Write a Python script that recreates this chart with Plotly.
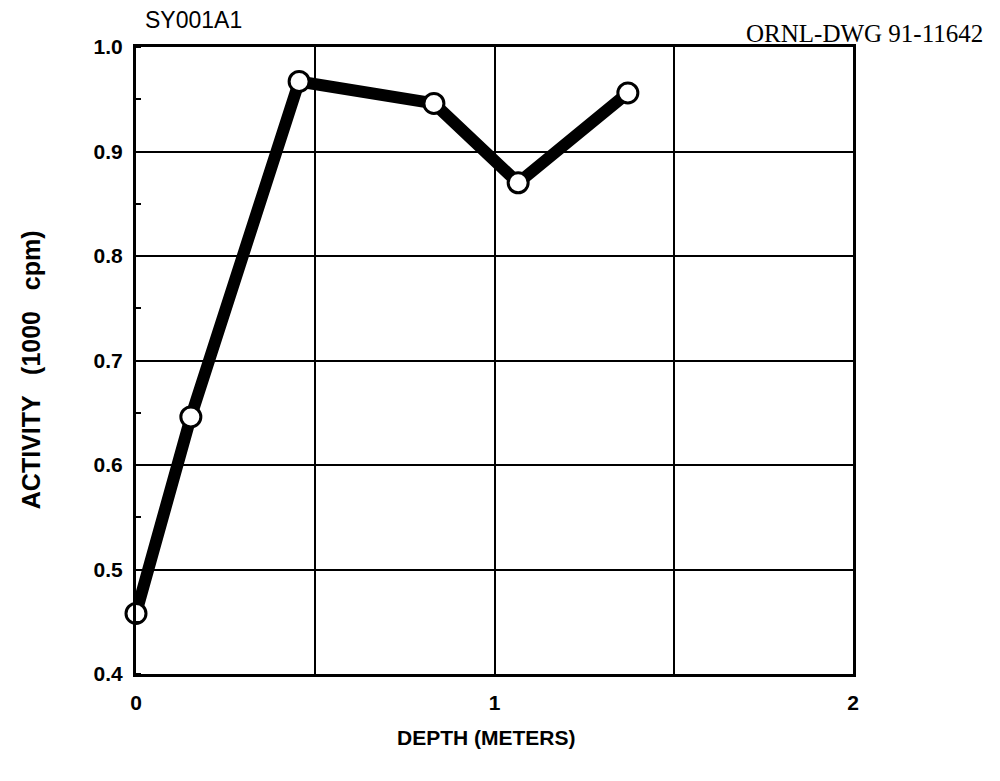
import plotly.graph_objects as go

depth = [0.0, 0.153, 0.455, 0.831, 1.066, 1.372]
activity = [0.458, 0.646, 0.967, 0.946, 0.870, 0.956]

x_tickvals = [0, 0.5, 1, 1.5, 2]
x_ticktext = ["0", "", "1", "", "2"]
y_tickvals = [0.4, 0.5, 0.6, 0.7, 0.8, 0.9, 1.0]
y_ticktext = ["0.4", "0.5", "0.6", "0.7", "0.8", "0.9", "1.0"]

SANS = "Liberation Sans, Arial, Helvetica, sans-serif"
SERIF = "Liberation Serif, Times New Roman, serif"

fig = go.Figure()
fig.add_trace(go.Scatter(
    x=depth, y=activity, mode="lines+markers",
    line=dict(color="black", width=12),
    marker=dict(size=20, color="white", line=dict(color="black", width=3)),
    showlegend=False, cliponaxis=False,
))

tick_font = dict(family=SANS, size=21, color="black")
fig.update_layout(
    width=1000, height=781,
    margin=dict(l=128, r=155, t=39, b=115),
    paper_bgcolor="white", plot_bgcolor="white",
    xaxis=dict(
        range=[0, 2], tickvals=x_tickvals,
        ticktext=[f"<b>{t}</b>" if t else "" for t in x_ticktext],
        showgrid=True, gridcolor="black", gridwidth=2,
        showline=True, linecolor="black", linewidth=3, mirror=True,
        ticks="", tickfont=tick_font, zeroline=False, ticklabelstandoff=8,
    ),
    yaxis=dict(
        range=[0.4, 1.0], tickvals=y_tickvals,
        ticktext=[f"<b>{t}</b>" for t in y_ticktext],
        showgrid=True, gridcolor="black", gridwidth=2,
        showline=True, linecolor="black", linewidth=3, mirror=True,
        ticks="", tickfont=tick_font, zeroline=False, ticklabelstandoff=6,
        minor=dict(dtick=0.05, ticks="inside", ticklen=5, tickcolor="black", tickwidth=2, showgrid=False),
    ),
)

fig.add_annotation(text="<b>DEPTH (METERS)</b>", x=0.4895, y=-0.1005, xref="paper", yref="paper",
                   xanchor="center", yanchor="middle", showarrow=False,
                   font=dict(family=SANS, size=21, color="black"))
fig.add_annotation(text="<b>ACTIVITY   (1000   cpm)</b>", x=-0.146, y=0.485, xref="paper", yref="paper",
                   xanchor="center", yanchor="middle", showarrow=False, textangle=-90,
                   font=dict(family=SANS, size=25, color="black"))
fig.add_annotation(text="SY001A1", x=0.0098, y=1.043, xref="paper", yref="paper",
                   xanchor="left", yanchor="middle", showarrow=False,
                   font=dict(family=SANS, size=23, color="black"))
fig.add_annotation(text="ORNL-DWG 91-11642", x=1.184, y=1.022, xref="paper", yref="paper",
                   xanchor="right", yanchor="middle", showarrow=False,
                   font=dict(family=SERIF, size=25, color="black"))
fig.write_html("out.html")
